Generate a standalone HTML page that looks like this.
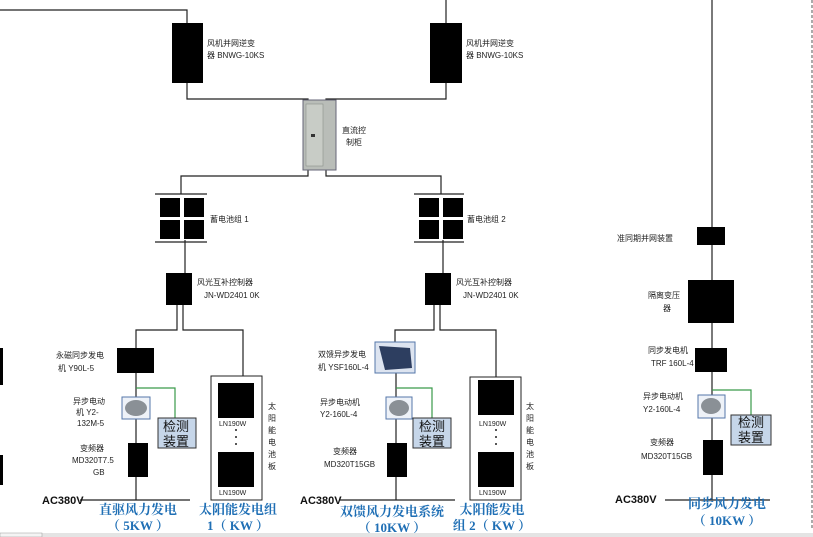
<!DOCTYPE html>
<html><head><meta charset="utf-8"><style>
body{margin:0;background:#fff;}
svg{display:block;font-family:"Liberation Sans","Noto Sans CJK SC",sans-serif;}
.s{font-size:8px;fill:#222;}
.t{font-size:13px;font-weight:bold;fill:#1f6fb5;font-family:"Liberation Serif","Noto Serif CJK SC",serif;}
.d{font-size:13px;fill:#111;}
.ac{font-size:11px;font-weight:bold;fill:#111;}
</style></head><body>
<svg width="813" height="537" viewBox="0 0 813 537" xmlns="http://www.w3.org/2000/svg">
<g stroke="#222" stroke-width="1.2" fill="none">
<polyline points="0,10 187,10 187,23"/>
<line x1="446" y1="0" x2="446" y2="23"/>
<polyline points="187,83 187,99 308,99 308,105"/>
<polyline points="446,83 446,99 326,99 326,105"/>
<polyline points="308,170 308,176 181,176 181,194"/>
<polyline points="326,170 326,176 441,176 441,194"/>
<line x1="185" y1="240" x2="185" y2="273"/>
<line x1="443" y1="240" x2="443" y2="273"/>
<line x1="155" y1="194" x2="207" y2="194"/><line x1="155" y1="242" x2="207" y2="242"/>
<line x1="414" y1="194" x2="464" y2="194"/><line x1="414" y1="242" x2="464" y2="242"/>
<!-- group1 -->
<polyline points="177,305 177,330 136,330 136,348"/>
<polyline points="183,305 183,330 243,330 243,376"/>
<line x1="136" y1="373" x2="136" y2="500"/>
<line x1="80" y1="500" x2="190" y2="500"/>
<!-- group2 -->
<polyline points="434,305 434,330 395,330 395,342"/>
<polyline points="440,305 440,330 496,330 496,377"/>
<line x1="396" y1="372" x2="396" y2="500"/>
<line x1="340" y1="500" x2="455" y2="500"/>
<!-- right -->
<line x1="712" y1="0" x2="712" y2="500"/>
<line x1="665" y1="500" x2="770" y2="500"/>
</g>
<line x1="812" y1="0" x2="812" y2="530" stroke="#555" stroke-dasharray="3,2"/>
<g stroke="#3a9a4a" stroke-width="1.2" fill="none">
<polyline points="136,388 175,388 175,418"/>
<polyline points="396,388 432,388 432,418"/>
<polyline points="712,390 751,390 751,415"/>
</g>
<g fill="#000">
<rect x="172" y="23" width="31" height="60"/>
<rect x="430" y="23" width="32" height="60"/>
<rect x="160" y="198" width="20" height="19"/><rect x="184" y="198" width="20" height="19"/>
<rect x="160" y="220" width="20" height="19"/><rect x="184" y="220" width="20" height="19"/>
<rect x="419" y="198" width="20" height="19"/><rect x="443" y="198" width="20" height="19"/>
<rect x="419" y="220" width="20" height="19"/><rect x="443" y="220" width="20" height="19"/>
<rect x="166" y="273" width="26" height="32"/>
<rect x="425" y="273" width="26" height="32"/>
<rect x="117" y="348" width="37" height="25"/>
<rect x="128" y="443" width="20" height="34"/>
<rect x="387" y="443" width="20" height="34"/>
<rect x="218" y="383" width="36" height="35"/><rect x="218" y="452" width="36" height="35"/>
<rect x="478" y="380" width="36" height="35"/><rect x="478" y="452" width="36" height="35"/>
<rect x="697" y="227" width="28" height="18"/>
<rect x="688" y="280" width="46" height="43"/>
<rect x="695" y="348" width="32" height="24"/>
<rect x="703" y="440" width="20" height="35"/>
<rect x="0" y="348" width="3" height="37"/><rect x="0" y="455" width="3" height="30"/>
</g>
<!-- cabinet -->
<rect x="303" y="100" width="33" height="70" fill="#b9bdb8" stroke="#667"/>
<rect x="306" y="104" width="17" height="62" fill="#c8ccc6" stroke="#8a8f8a" stroke-width="0.6"/>
<rect x="311" y="134" width="4" height="3" fill="#333"/>
<!-- motors -->
<g stroke="#5577aa" fill="#eef2f8">
<rect x="122" y="397" width="28" height="22"/>
<rect x="386" y="397" width="26" height="22"/>
<rect x="698" y="395" width="27" height="23"/>
<rect x="375" y="342" width="40" height="31" fill="#dde4f0"/>
</g>
<g fill="#8a9096">
<ellipse cx="136" cy="408" rx="11" ry="8"/><ellipse cx="399" cy="408" rx="10" ry="8"/><ellipse cx="711" cy="406" rx="10" ry="8"/>
</g>
<path d="M379,346 L410,348 L412,368 L385,370 Z" fill="#2d3e60"/>
<!-- detection -->
<g fill="#c6d6e9" stroke="#333">
<rect x="158" y="418" width="38" height="30"/>
<rect x="413" y="418" width="38" height="30"/>
<rect x="731" y="415" width="40" height="30"/>
</g>
<g fill="none" stroke="#222"><rect x="211" y="376" width="51" height="124"/><rect x="470" y="377" width="51" height="123"/></g>
<g fill="#222"><circle cx="236" cy="430" r="1"/><circle cx="236" cy="437" r="1"/><circle cx="236" cy="444" r="1"/>
<circle cx="496" cy="430" r="1"/><circle cx="496" cy="437" r="1"/><circle cx="496" cy="444" r="1"/></g>
<g class="d"><text x="163" y="431">检测</text><text x="163" y="446">装置</text>
<text x="419" y="431">检测</text><text x="419" y="446">装置</text>
<text x="738" y="427">检测</text><text x="738" y="442">装置</text></g>
<g class="s">
<text x="207" y="46">风机并网逆变</text><text x="207" y="58">器 BNWG-10KS</text>
<text x="466" y="46">风机并网逆变</text><text x="466" y="58">器 BNWG-10KS</text>
<text x="342" y="133">直流控</text><text x="346" y="145">制柜</text>
<text x="210" y="222">蓄电池组 1</text><text x="467" y="222">蓄电池组 2</text>
<text x="197" y="285">风光互补控制器</text><text x="204" y="298">JN-WD2401 0K</text>
<text x="456" y="285">风光互补控制器</text><text x="463" y="298">JN-WD2401 0K</text>
<text x="56" y="358">永磁同步发电</text><text x="58" y="371">机 Y90L-5</text>
<text x="73" y="404">异步电动</text><text x="76" y="415">机 Y2-</text><text x="77" y="426">132M-5</text>
<text x="80" y="451">变频器</text><text x="72" y="463">MD320T7.5</text><text x="93" y="475">GB</text>
<text x="219" y="426" font-size="7">LN190W</text><text x="219" y="495" font-size="7">LN190W</text>
<text x="479" y="426" font-size="7">LN190W</text><text x="479" y="495" font-size="7">LN190W</text>
<text x="318" y="357">双馈异步发电</text><text x="318" y="370">机 YSF160L-4</text>
<text x="320" y="405">异步电动机</text><text x="320" y="417">Y2-160L-4</text>
<text x="333" y="454">变频器</text><text x="324" y="467">MD320T15GB</text>
<text x="617" y="241">准同期并网装置</text>
<text x="648" y="298">隔离变压</text><text x="663" y="311">器</text>
<text x="648" y="353">同步发电机</text><text x="651" y="366">TRF 160L-4</text>
<text x="643" y="399">异步电动机</text><text x="643" y="412">Y2-160L-4</text>
<text x="650" y="445">变频器</text><text x="641" y="459">MD320T15GB</text>
</g>
<g class="s" text-anchor="middle">
<text x="272" y="409">太</text><text x="272" y="421">阳</text><text x="272" y="433">能</text><text x="272" y="445">电</text><text x="272" y="457">池</text><text x="272" y="469">板</text>
<text x="530" y="409">太</text><text x="530" y="421">阳</text><text x="530" y="433">能</text><text x="530" y="445">电</text><text x="530" y="457">池</text><text x="530" y="469">板</text>
</g>
<text class="ac" x="42" y="504">AC380V</text>
<text class="ac" x="300" y="504">AC380V</text>
<text class="ac" x="615" y="503">AC380V</text>
<g class="t" text-anchor="middle">
<text x="138" y="514">直驱风力发电</text><text x="138" y="530">（ 5KW ）</text>
<text x="238" y="514">太阳能发电组</text><text x="238" y="530">1（ KW ）</text>
<text x="392" y="516">双馈风力发电系统</text><text x="392" y="532">（ 10KW ）</text>
<text x="492" y="514">太阳能发电</text><text x="492" y="530">组 2（ KW ）</text>
<text x="727" y="508">同步风力发电</text><text x="727" y="525">（ 10KW ）</text>
</g>
<rect x="0" y="533" width="813" height="4" fill="#e4e4e4"/>
<rect x="0" y="533" width="42" height="4" fill="#f4f4f4" stroke="#999" stroke-width="0.5"/>
</svg>
</body></html>
